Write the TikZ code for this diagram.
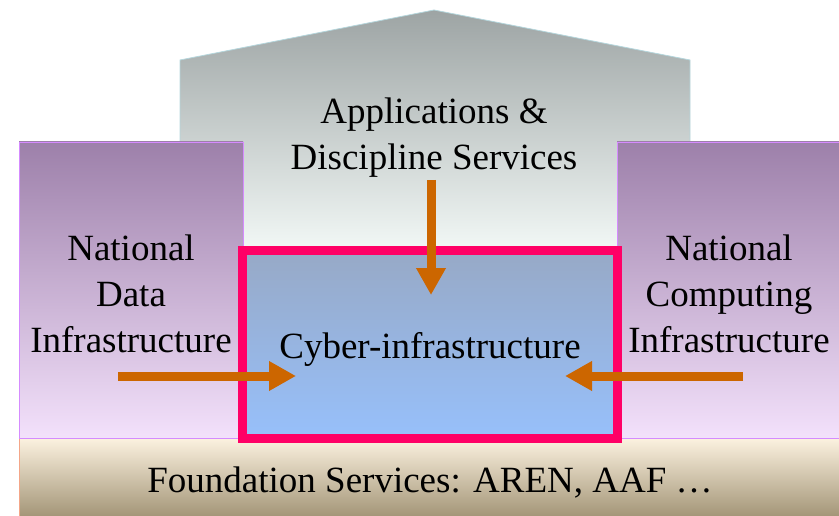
\documentclass[tikz,border=0pt]{standalone}
\usepackage{fontspec}
\setmainfont{Liberation Serif}
\usetikzlibrary{arrows.meta}
\definecolor{houseTop}{HTML}{9DA4A4}
\definecolor{houseBot}{HTML}{F2F8F6}
\definecolor{houseEdge}{HTML}{B5D6DC}
\definecolor{pilTop}{HTML}{9D80AA}
\definecolor{pilBot}{HTML}{F3E1FB}
\definecolor{pilEdge}{HTML}{D58BFF}
\definecolor{cybTop}{HTML}{97A9C6}
\definecolor{cybBot}{HTML}{97C0FB}
\definecolor{cybEdge}{HTML}{FF0066}
\definecolor{fndTop}{HTML}{FCF2E0}
\definecolor{fndMid}{HTML}{E8DBC4}
\definecolor{fndBot}{HTML}{A49678}
\definecolor{fndEdge}{HTML}{F4A688}
\definecolor{arrowOr}{HTML}{CC6600}
\tikzset{
  lbl/.style={align=center, text=black, font=\fontsize{37}{46}\selectfont, inner sep=0pt},
  pillar/.style={draw=pilEdge, line width=0.8pt, top color=pilTop, bottom color=pilBot},
  feed/.style={draw=arrowOr, line width=9pt, -{Triangle[width=28pt,length=27pt]}}
}
\begin{document}
\begin{tikzpicture}[x=1pt,y=-1pt]
\useasboundingbox (0,0) rectangle (839,516);
% house
\path[draw=houseEdge, line width=0.8pt, top color=houseTop, bottom color=houseBot]
  (180,250) -- (180,60) -- (434,10) -- (690,60) -- (690,250) -- cycle;
% pillars
\path[pillar] (19,142) rectangle (243,438);
\path[pillar] (617,142) rectangle (845,438);
% foundation
\path[top color=fndTop, middle color=fndMid, bottom color=fndBot] (19,438) rectangle (845,516);
\draw[draw=fndEdge, line width=0.8pt] (19,520) -- (19,438);
\draw[draw=pilEdge, line width=0.8pt] (19,438) -- (845,438);
% cyber box
\path[draw=cybEdge, line width=9pt, top color=cybTop, bottom color=cybBot]
  (242.5,250.5) rectangle (617.5,438.5);
% labels
\node[lbl] (apps) at (434,138) {Applications \&\\Discipline Services};
\node[lbl] (data) at (131,294) {National\\Data\\Infrastructure};
\node[lbl] (comp) at (729,294) {National\\Computing\\Infrastructure};
\node[lbl] (cyber) at (430,349) {Cyber-infrastructure};
\node[lbl] (fnd) at (430,483) {Foundation Services: AREN, AAF \ldots};
% arrows
\coordinate (aTop) at (431,180);
\coordinate (aTopEnd) at (431,295);
\coordinate (aL) at (118,376);
\coordinate (aLEnd) at (296,376);
\coordinate (aR) at (743,376);
\coordinate (aREnd) at (565,376);
\draw[feed] (aTop) -- (aTopEnd);
\draw[feed] (aL) -- (aLEnd);
\draw[feed] (aR) -- (aREnd);
\end{tikzpicture}
\end{document}
